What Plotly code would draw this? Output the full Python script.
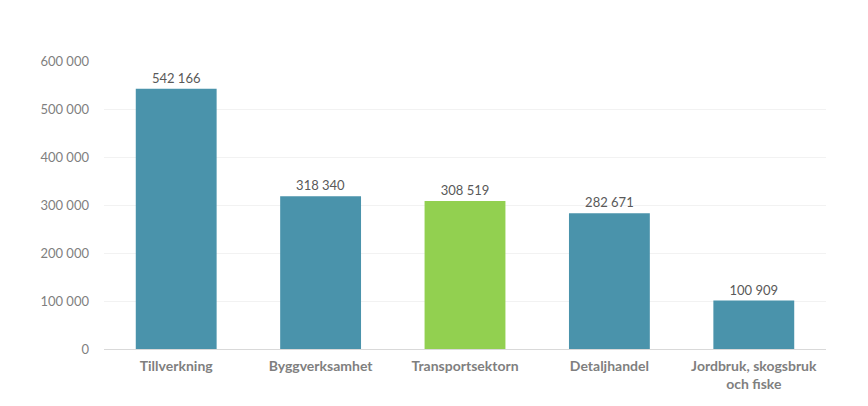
import plotly.graph_objects as go

categories = ["Tillverkning", "Byggverksamhet", "Transportsektorn", "Detaljhandel", "Jordbruk, skogsbruk<br>och fiske"]
values = [542166, 318340, 308519, 282671, 100909]
colors = ["#4a93ab", "#4a93ab", "#92d050", "#4a93ab", "#4a93ab"]
tick_vals = [0, 100000, 200000, 300000, 400000, 500000, 600000]

fig = go.Figure(go.Bar(
    x=categories, y=values,
    marker=dict(color=colors, line=dict(width=0)),
    texttemplate="%{y:,d}", textposition="outside",
    textfont=dict(family="Lato, sans-serif", size=13, color="#595959"),
    cliponaxis=False,
))

fig.update_layout(
    width=868, height=406,
    margin=dict(l=96, r=50, t=53, b=65),
    paper_bgcolor="white", plot_bgcolor="white",
    separators=", ",
    bargap=0.44,
    showlegend=False,
    font=dict(family="Lato, sans-serif", color="#7f7f7f"),
)
fig.update_xaxes(
    showline=True, linecolor="#d9d9d9", linewidth=1,
    tickfont=dict(family="Lato, sans-serif", size=14, color="#7f7f7f", weight="bold"),
    ticks="", showgrid=False,
    ticklabelstandoff=4,
)
fig.update_yaxes(
    range=[0, 600000], tickvals=tick_vals, tickformat=",d",
    showgrid=True, gridcolor="#f2f2f2", gridwidth=1,
    zeroline=False, showline=False,
    tickfont=dict(family="Lato, sans-serif", size=13, color="#7f7f7f"),
    ticklabelstandoff=14,
)

fig.write_html("out.html")
